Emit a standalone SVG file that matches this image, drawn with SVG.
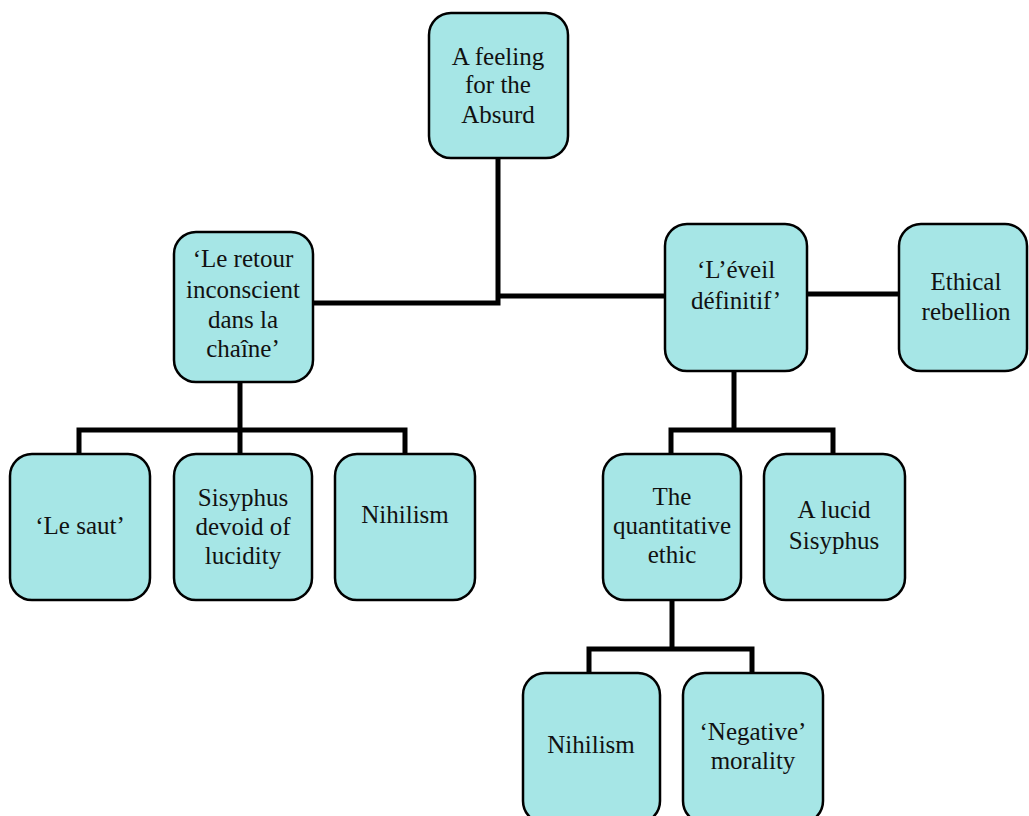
<svg xmlns="http://www.w3.org/2000/svg" width="1029" height="816" viewBox="0 0 1029 816">
<style>
.box{fill:#a6e6e6;stroke:#000;stroke-width:2.5}
.ln{fill:none;stroke:#000;stroke-width:5}
text{font-size:25px;fill:#111;text-anchor:middle}
</style>
<rect width="1029" height="816" fill="#fff"/>
<g id="connectors">
<polyline class="ln" points="498,158 498,303 313,303"/>
<polyline class="ln" points="498,296 665,296"/>
<line class="ln" x1="807" y1="294" x2="899" y2="294"/>
<polyline class="ln" points="240,382 240,430"/>
<polyline class="ln" points="79,454 79,430 405,430 405,454"/>
<line class="ln" x1="240" y1="430" x2="240" y2="454"/>
<polyline class="ln" points="734,371 734,430"/>
<polyline class="ln" points="671,454 671,430 833,430 833,454"/>
<polyline class="ln" points="672,600 672,649"/>
<polyline class="ln" points="589,673 589,649 752,649 752,673"/>
</g>
<g font-family="'Liberation Serif', 'Times New Roman', 'DejaVu Serif', serif">
<g id="n-absurd"><rect class="box" x="429" y="13" width="139" height="145" rx="22"/>
<text x="498" y="65">A feeling</text><text x="498" y="93">for the</text><text x="498" y="123">Absurd</text></g>
<g id="n-retour"><rect class="box" x="174" y="232" width="139" height="150" rx="22"/>
<text x="243" y="267">‘Le retour</text><text x="243" y="298">inconscient</text><text x="243" y="328">dans la</text><text x="243" y="357">chaîne’</text></g>
<g id="n-eveil"><rect class="box" x="665" y="224" width="142" height="147" rx="22"/>
<text x="736" y="278">‘L’éveil</text><text x="736" y="309">définitif’</text></g>
<g id="n-ethical"><rect class="box" x="899" y="224" width="128" height="147" rx="22"/>
<text x="966" y="290">Ethical</text><text x="966" y="320">rebellion</text></g>
<g id="n-saut"><rect class="box" x="10" y="454" width="140" height="146" rx="22"/>
<text x="80" y="534">‘Le saut’</text></g>
<g id="n-sisyphus1"><rect class="box" x="174" y="454" width="138" height="146" rx="22"/>
<text x="243" y="506">Sisyphus</text><text x="243" y="535">devoid of</text><text x="243" y="564">lucidity</text></g>
<g id="n-nihilism1"><rect class="box" x="335" y="454" width="140" height="146" rx="22"/>
<text x="405" y="523">Nihilism</text></g>
<g id="n-quant"><rect class="box" x="603" y="454" width="138" height="146" rx="22"/>
<text x="672" y="505">The</text><text x="672" y="534">quantitative</text><text x="672" y="563">ethic</text></g>
<g id="n-lucid"><rect class="box" x="764" y="454" width="141" height="146" rx="22"/>
<text x="834" y="518">A lucid</text><text x="834" y="549">Sisyphus</text></g>
<g id="n-nihilism2"><rect class="box" x="523" y="673" width="137" height="150" rx="22"/>
<text x="591" y="753">Nihilism</text></g>
<g id="n-negative"><rect class="box" x="683" y="673" width="140" height="150" rx="22"/>
<text x="753" y="740">‘Negative’</text><text x="753" y="769">morality</text></g>
</g>
</svg>
